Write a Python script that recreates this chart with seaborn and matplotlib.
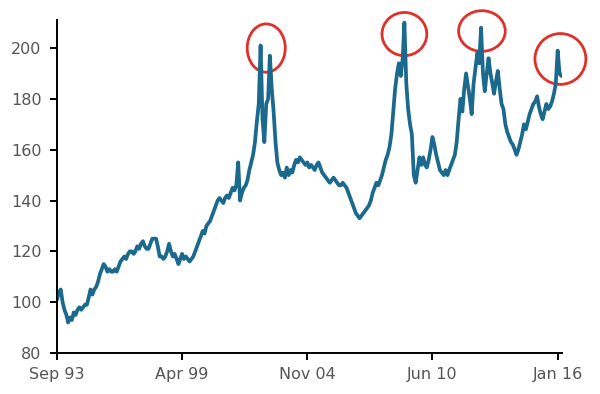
import numpy as np
import pandas as pd
import seaborn as sb
import matplotlib.pyplot as plt
import matplotlib.dates as mdates
from matplotlib.patches import Ellipse

# monthly index values, Sep 1993 .. Mar 2016
v1993 = [101, 104, 105, 100]
v1994 = [97, 95, 92, 94, 93, 96, 95, 97, 98, 97, 98, 99]
v1995 = [99, 102, 105, 103, 105, 106, 108, 111, 113, 115, 114, 112]
v1996 = [113, 112, 112, 113, 112, 114, 116, 117, 118, 117, 119, 120]
v1997 = [120, 119, 120, 122, 121, 123, 124, 122, 121, 121, 123, 125]
v1998 = [125, 125, 122, 118, 118, 117, 118, 120, 123, 120, 118, 119]
v1999 = [117, 115, 117, 119, 117, 118, 117, 116, 117, 118, 120, 122]
v2000 = [124, 126, 128, 127, 130, 131, 132, 134, 136, 138, 140, 141]
v2001 = [140, 139, 141, 142, 141, 143, 145, 144, 146, 155, 140, 143]
v2002 = [145, 146, 148, 152, 155, 158, 163, 171, 178, 201, 172, 163]
v2003 = [178, 180, 197, 184, 175, 163, 155, 152, 150, 151, 149, 153]
v2004 = [150, 152, 151, 154, 156, 155, 157, 156, 155, 154, 155, 153]
v2005 = [154, 153, 152, 154, 155, 153, 151, 150, 149, 148, 147, 148]
v2006 = [149, 148, 147, 146, 146, 147, 146, 145, 143, 141, 139, 137]
v2007 = [135, 134, 133, 134, 135, 136, 137, 138, 140, 143, 145, 147]
v2008 = [146, 148, 150, 153, 156, 158, 161, 166, 175, 184, 190, 194]
v2009 = [189, 196, 210, 186, 176, 170, 166, 150, 147, 152, 157, 154]
v2010 = [157, 154, 153, 156, 160, 165, 162, 158, 155, 152, 151, 150]
v2011 = [152, 150, 152, 154, 156, 158, 163, 172, 180, 175, 184, 190]
v2012 = [185, 180, 174, 186, 192, 198, 194, 208, 190, 183, 190, 196]
v2013 = [190, 186, 182, 187, 191, 184, 178, 176, 170, 167, 165, 163]
v2014 = [162, 160, 158, 160, 163, 166, 170, 168, 171, 174, 176, 178]
v2015 = [179, 181, 177, 174, 172, 175, 178, 176, 177, 179, 182, 186]
v2016 = [199, 190, 189]

values = (v1993 + v1994 + v1995 + v1996 + v1997 + v1998 + v1999 + v2000 +
          v2001 + v2002 + v2003 + v2004 + v2005 + v2006 + v2007 + v2008 +
          v2009 + v2010 + v2011 + v2012 + v2013 + v2014 + v2015 + v2016)

tick_dates = ['1993-09-01', '1999-04-01', '2004-11-01', '2010-06-01', '2016-01-01']
tick_labels = ['Sep 93', 'Apr 99', 'Nov 04', 'Jun 10', 'Jan 16']

# highlighted peaks: centre date, centre value
circle_dates = ['2003-01-01', '2009-03-01', '2012-08-15', '2016-02-15']
circle_values = [200, 205.5, 206.7, 195.7]

df = pd.DataFrame({
    'date': pd.date_range('1993-09-01', periods=len(values), freq='MS'),
    'value': values,
})

sb.set_style('ticks')
plt.rcParams['font.family'] = ['DejaVu Sans']

fig = plt.figure(figsize=(6.0, 3.94), dpi=100)
ax = fig.add_axes([0.095, 0.104, 0.842, 0.845])

sb.lineplot(data=df, x='date', y='value', ax=ax, color='#1b6a8e', linewidth=2.7)

ax.set_ylim(80, 211)
ax.set_yticks(range(80, 201, 20))
ax.set_xlim(pd.Timestamp('1993-09-01'), pd.Timestamp('2016-03-15'))
ax.set_xticks(pd.to_datetime(tick_dates))
ax.set_xticklabels(tick_labels)
ax.set_xlabel('')
ax.set_ylabel('')

for side in ['top', 'right']:
    ax.spines[side].set_visible(False)
for side in ['left', 'bottom']:
    ax.spines[side].set_linewidth(1.4)
    ax.spines[side].set_color('black')
ax.tick_params(axis='both', colors='black', labelcolor='#555555',
               labelsize=11.5, length=5, width=1.4)
ax.tick_params(axis='y', pad=6)
ax.tick_params(axis='x', pad=5)

# red circles (width in days, height in value units)
sizes = [(620, 19), (730, 17), (760, 16), (830, 20)]
for d, v, (w, h) in zip(circle_dates, circle_values, sizes):
    e = Ellipse((mdates.date2num(pd.Timestamp(d)), v), w, h,
                fill=False, edgecolor='#e0302a', linewidth=2.0, clip_on=False)
    ax.add_patch(e)

plt.savefig('out.png', dpi=100)
